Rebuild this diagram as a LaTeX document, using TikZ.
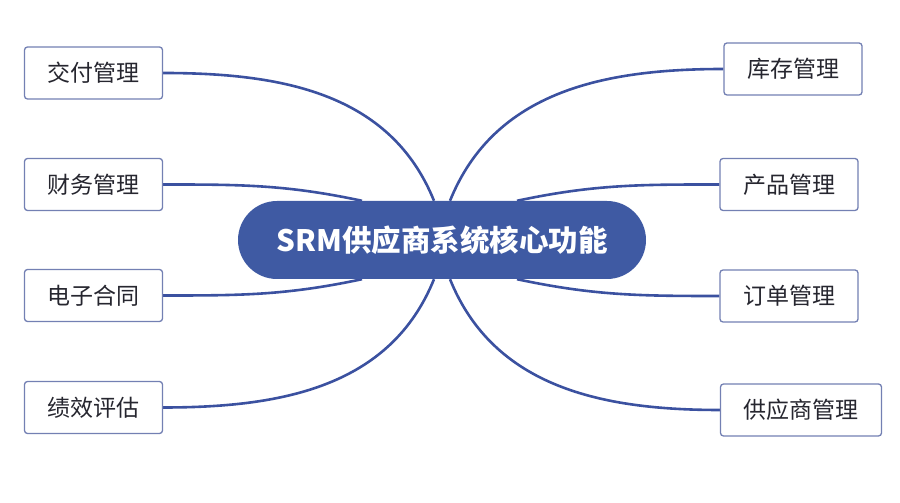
\documentclass[tikz,border=0pt]{standalone}
\usepackage{fontspec}
\newfontfamily\cjk{Noto Sans CJK SC}
\usetikzlibrary{backgrounds}
\definecolor{branchblue}{HTML}{3B51A0}
\definecolor{corefill}{HTML}{3F5AA3}
\definecolor{leafedge}{HTML}{7380B3}
\definecolor{leaftext}{HTML}{26262F}
\begin{document}
\begin{tikzpicture}[x=1pt,y=1pt,
    leaf/.style={draw=leafedge, line width=1.3pt, rounded corners=3pt, fill=white,
        minimum height=52pt, inner xsep=23pt, text=leaftext,
        font=\cjk\fontsize{23}{23}\selectfont},
    core/.style={fill=corefill, rounded corners=39pt, minimum width=408pt,
        minimum height=78pt, text=white, font=\cjk\bfseries\fontsize{29.5}{29.5}\selectfont},
    branch/.style={draw=branchblue, line width=2.6pt}]
\useasboundingbox (0,0) rectangle (900,503);
\node[core] (srm) at (442,263) {SRM供应商系统核心功能};
% left side
\foreach \i/\y/\t in {1/430/交付管理, 2/318.5/财务管理, 3/207.5/电子合同, 4/95.5/绩效评估}
    \node[leaf] (l\i) at (93.5,\y) {\t};
% right side
\node[leaf] (r1) at (793,434) {库存管理};
\node[leaf] (r2) at (789,318.5) {产品管理};
\node[leaf] (r3) at (789,207) {订单管理};
\node[leaf] (r4) at (801,93) {供应商管理};
\begin{scope}[on background layer]
\draw[branch] (l1.east) to[out=0,in=112] ([xshift=-8pt]srm.north);
\draw[branch] (l2.east) to[out=0,in=168] ([xshift=-80pt]srm.north);
\draw[branch] (l3.east) to[out=0,in=192] ([xshift=-80pt]srm.south);
\draw[branch] (l4.east) to[out=0,in=248] ([xshift=-8pt]srm.south);
\draw[branch] (r1.west) to[out=180,in=68] ([xshift=8pt]srm.north);
\draw[branch] (r2.west) to[out=180,in=12] ([xshift=75pt]srm.north);
\draw[branch] (r3.west) to[out=180,in=-12] ([xshift=75pt]srm.south);
\draw[branch] (r4.west) to[out=180,in=-68] ([xshift=8pt]srm.south);
\end{scope}
\end{tikzpicture}
\end{document}
